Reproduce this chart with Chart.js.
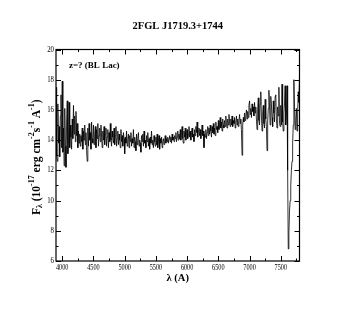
<!DOCTYPE html>
<html>
<head>
<meta charset="utf-8">
<script src="https://cdn.jsdelivr.net/npm/chart.js@4.4.1/dist/chart.umd.min.js"></script>
<style>
  html, body { margin: 0; padding: 0; background: #fff; }
  #wrap { width: 354px; height: 311px; }
</style>
</head>
<body>
<div id="wrap"><canvas id="spec" width="354" height="311"></canvas></div>
<script>
// spectrum sampled every 10 A from 3900 A
const lambdaStart = 3900
const lambdaStep = 10
const flux = [
  17.5, 13.0, 12.6, 16.4, 13.8, 14.9, 12.9, 15.6, 17.0, 13.5,
  17.9, 13.2, 14.8, 12.3, 16.1, 13.6, 12.2, 15.2, 16.6, 13.1,
  14.0, 16.5, 13.5, 15.0, 14.2, 13.4, 15.4, 14.1, 16.3, 14.4,
  15.6, 13.9, 15.9, 14.3, 15.1, 13.5, 14.6, 13.8, 14.4, 13.6,
  14.3, 13.9, 14.8, 13.4, 14.6, 14.0, 15.0, 13.7, 14.5, 13.3,
  12.6, 14.8, 13.6, 15.1, 14.0, 14.5, 13.4, 15.2, 14.1, 13.8,
  15.0, 13.7, 14.4, 14.9, 13.5, 14.7, 14.1, 15.1, 13.6, 14.3,
  14.8, 13.9, 15.0, 14.2, 13.5, 14.6, 14.0, 14.9, 13.7, 14.4,
  14.8, 13.6, 14.2, 14.7, 13.5, 14.5, 13.9, 15.1, 14.0, 13.6,
  14.6, 14.2, 13.8, 14.8, 13.7, 14.3, 14.9, 13.6, 14.1, 14.6,
  13.7, 14.4, 14.0, 13.5, 14.7, 13.9, 14.3, 13.6, 14.5, 14.1,
  13.1, 14.2, 13.8, 14.6, 13.6, 14.0, 14.4, 13.5, 14.3, 13.9,
  14.5, 13.6, 14.1, 13.8, 14.7, 13.5, 14.2, 13.9, 13.3, 14.4,
  13.7, 14.1, 14.5, 13.6, 14.0, 13.8, 13.2, 14.3, 13.9, 14.4,
  13.6, 14.6, 13.8, 14.0, 13.5, 14.3, 13.9, 14.5, 13.6, 14.1,
  13.4, 14.2, 13.8, 14.6, 13.7, 14.0, 13.5, 14.3, 13.9, 13.6,
  14.2, 13.7, 14.4, 13.5, 13.9, 14.3, 13.4, 14.1, 13.8, 14.2,
  13.5, 13.9, 14.1, 13.7, 14.0, 14.3, 13.8, 14.1, 13.9, 14.2,
  13.8, 14.1, 14.3, 13.9, 14.2, 13.8, 14.4, 14.0, 14.2, 13.9,
  14.3, 14.1, 14.5, 13.9, 14.2, 14.6, 14.0, 14.4, 14.1, 14.7,
  14.0, 14.5, 14.9, 14.1, 13.8, 14.6, 14.2, 14.8, 14.0, 14.5,
  14.7, 14.1, 14.4, 14.9, 14.2, 14.6, 14.0, 14.5, 14.8, 14.2,
  14.4, 13.9, 14.7, 14.3, 14.9, 14.5, 15.2, 14.2, 14.6, 14.8,
  14.3, 14.7, 14.1, 14.5, 15.0, 14.3, 14.6, 13.5, 14.4, 14.2,
  14.7, 14.1, 14.5, 14.9, 14.3, 14.8, 14.4, 15.0, 14.6, 14.2,
  14.9, 14.5, 15.1, 14.4, 14.8, 14.3, 15.2, 14.7, 14.9, 14.5,
  15.3, 14.7, 15.0, 15.5, 14.8, 15.2, 14.6, 15.4, 15.0, 14.8,
  15.3, 14.9, 15.6, 15.1, 14.8, 15.4, 15.0, 15.7, 15.2, 14.9,
  15.4, 15.0, 15.6, 14.9, 15.3, 15.1, 15.5, 14.8, 15.2, 15.6,
  15.0, 15.4, 14.9, 15.3, 15.7, 15.1, 15.4, 14.7, 13.0, 15.0,
  15.5, 15.2, 15.8, 15.3, 15.6, 16.0, 15.4, 15.9, 15.5, 16.3,
  16.6, 15.7, 16.1, 15.5, 16.4, 15.9, 16.2, 15.6, 16.5, 15.8,
  16.2, 15.4, 14.7, 16.0, 16.8, 15.3, 15.0, 16.4, 17.2, 15.6,
  14.6, 15.8, 16.3, 15.1, 14.8, 16.7, 15.4, 14.9, 13.3, 15.2,
  16.1, 17.3, 16.2, 15.0, 16.9, 16.4, 15.5, 14.9, 16.6, 15.8,
  15.2, 16.9, 17.0, 15.4, 14.8, 16.2, 15.6, 17.5, 15.1, 14.9,
  16.3, 15.0, 17.7, 15.2, 14.6, 15.8, 16.4, 17.6, 15.0, 15.5,
  17.6, 12.0, 6.8, 7.8, 9.3, 10.0, 11.0, 12.0, 12.6, 13.8,
  15.0, 18.0, 16.2, 14.7, 15.3, 16.1, 14.6, 15.8, 17.2, 16.5,
  18.3
]

const xMajor = [4000, 4500, 5000, 5500, 6000, 6500, 7000, 7500]
const xMinor = [4250, 4750, 5250, 5750, 6250, 6750, 7250, 7750]
const yMajor = [6, 8, 10, 12, 14, 16, 18, 20]
const yMinor = [7, 9, 11, 13, 15, 17, 19]

const titleText = '2FGL J1719.3+1744'
const noteText = 'z=? (BL Lac)'

const serif = '"Liberation Serif", "DejaVu Serif", serif'

const points = flux.map((f, i) => ({ x: lambdaStart + i * lambdaStep, y: f }))

// draws a list of text pieces, some raised or lowered, centred on 0
function drawRich(ctx, parts, base) {
  let total = 0
  parts.forEach(p => {
    ctx.font = `bold ${p.size || base}px ${serif}`
    p.w = ctx.measureText(p.t).width
    total += p.w
  })
  let x = -total / 2
  parts.forEach(p => {
    ctx.font = `bold ${p.size || base}px ${serif}`
    ctx.fillText(p.t, x, p.dy || 0)
    x += p.w
  })
}

const frame = {
  id: 'frame',
  afterDraw(chart) {
    const { ctx, chartArea: a, scales: { x, y } } = chart
    ctx.save()
    ctx.strokeStyle = '#000'
    ctx.fillStyle = '#000'
    ctx.lineWidth = 1.2
    ctx.strokeRect(a.left, a.top, a.right - a.left, a.bottom - a.top)

    ctx.lineWidth = 1
    ctx.beginPath()
    const tickX = (vals, len) => vals.forEach(v => {
      const px = Math.round(x.getPixelForValue(v)) + 0.5
      ctx.moveTo(px, a.bottom); ctx.lineTo(px, a.bottom - len)
      ctx.moveTo(px, a.top); ctx.lineTo(px, a.top + len)
    })
    const tickY = (vals, len) => vals.forEach(v => {
      const py = Math.round(y.getPixelForValue(v)) + 0.5
      ctx.moveTo(a.left, py); ctx.lineTo(a.left + len, py)
      ctx.moveTo(a.right, py); ctx.lineTo(a.right - len, py)
    })
    tickX(xMajor, 5); tickX(xMinor, 2.5)
    tickY(yMajor, 5); tickY(yMinor, 2.5)
    ctx.stroke()

    // tick labels, a little narrow like the original
    ctx.font = `8px ${serif}`
    ctx.textAlign = 'center'
    ctx.textBaseline = 'top'
    xMajor.forEach(v => {
      ctx.save()
      ctx.translate(x.getPixelForValue(v), a.bottom + 3)
      ctx.scale(0.78, 1)
      ctx.fillText(String(v), 0, 0)
      ctx.restore()
    })
    ctx.textAlign = 'right'
    ctx.textBaseline = 'middle'
    yMajor.forEach(v => {
      ctx.save()
      ctx.translate(a.left - 2, y.getPixelForValue(v))
      ctx.scale(0.85, 1)
      ctx.fillText(String(v), 0, 0)
      ctx.restore()
    })

    // title
    ctx.textAlign = 'center'
    ctx.textBaseline = 'middle'
    ctx.font = `bold 10.5px ${serif}`
    ctx.fillText(titleText, (a.left + a.right) / 2, 26)

    // note inside the frame
    ctx.textAlign = 'left'
    ctx.font = `bold 9px ${serif}`
    ctx.fillText(noteText, 69, 66)

    // x axis title
    ctx.textAlign = 'left'
    ctx.textBaseline = 'middle'
    ctx.save()
    ctx.translate((a.left + a.right) / 2, 278)
    drawRich(ctx, [{ t: 'λ (A)' }], 10.5)
    ctx.restore()

    // y axis title
    ctx.save()
    ctx.translate(37, (a.top + a.bottom) / 2 + 2)
    ctx.rotate(-Math.PI / 2)
    drawRich(ctx, [
      { t: 'F' },
      { t: 'λ', size: 8, dy: 3 },
      { t: ' (10' },
      { t: '-17', size: 8, dy: -5 },
      { t: ' erg cm' },
      { t: '-2', size: 8, dy: -5 },
      { t: 's' },
      { t: '-1', size: 8, dy: -5 },
      { t: ' A' },
      { t: '-1', size: 8, dy: -5 },
      { t: ')' }
    ], 11.5)
    ctx.restore()

    ctx.restore()
  }
}

new Chart(document.getElementById('spec'), {
  type: 'line',
  data: {
    datasets: [{
      data: points,
      borderColor: '#000',
      borderWidth: 0.8,
      pointRadius: 0,
      tension: 0,
      fill: false
    }]
  },
  options: {
    responsive: false,
    animation: false,
    layout: { padding: { left: 56, right: 54.5, top: 49.5, bottom: 50 } },
    plugins: { legend: { display: false }, tooltip: { enabled: false } },
    scales: {
      x: { type: 'linear', min: 3900, max: 7800, display: false },
      y: { type: 'linear', min: 6, max: 20, display: false }
    }
  },
  plugins: [frame]
})
</script>
</body>
</html>
